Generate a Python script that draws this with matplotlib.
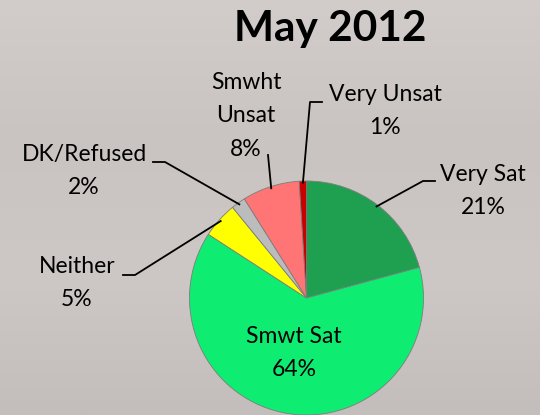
import matplotlib.pyplot as plt
import numpy as np
from matplotlib.colors import LinearSegmentedColormap

plt.rcParams['font.family'] = ['Lato', 'DejaVu Sans']

# survey shares, clockwise from 12 o'clock
labels = ['Very Sat', 'Smwt Sat', 'Neither', 'DK/Refused', 'Smwht\nUnsat', 'Very Unsat']
pcts = [21, 64, 5, 2, 8, 1]
colors = ['#1fa050', '#0eec72', '#ffff00', '#bcbcbc', '#ff7474', '#c80000']

W, H = 540, 415
fig = plt.figure(figsize=(5.4, 4.15), dpi=100)
ax = fig.add_axes([0, 0, 1, 1])

# grey slide background
bg = LinearSegmentedColormap.from_list('bg', ['#d2cdca', '#c9c4c1', '#cdc8c5', '#c3bebb'])
ax.imshow(np.linspace(0, 1, 256).reshape(-1, 1), cmap=bg, aspect='auto',
          extent=[0, W, 0, H], origin='upper', zorder=0)

cx, cy, r = 306.5, H - 298, 117
wedges, _ = ax.pie(pcts, colors=colors, startangle=90, counterclock=False,
                   center=(cx, cy), radius=r,
                   wedgeprops=dict(edgecolor='#7d7d7d', linewidth=0.6))

# label centres and leader elbows, in pixels from the top-left
text_xy = [(483, 191), (294, 353), (77, 283), (84, 171), (246, 116), (385, 111)]
elbows = [[(423, 181), (435, 181)], None, [(135, 275), (123, 275)],
          [(165, 162), (153, 162)], [(268, 155)], [(310, 102), (322, 102)]]

for w, lab, p, (tx, ty), elb in zip(wedges, labels, pcts, text_xy, elbows):
    ax.text(tx, H - ty, f'{lab}\n{p}%', ha='center', va='center',
            fontsize=16.5, linespacing=1.75, zorder=5)
    if elb is None:
        continue
    mid = np.radians((w.theta1 + w.theta2) / 2)
    xs = [cx + r * 0.985 * np.cos(mid)] + [e[0] for e in elb]
    ys = [cy + r * 0.985 * np.sin(mid)] + [H - e[1] for e in elb]
    ax.plot(xs, ys, color='black', lw=1.3, zorder=4)

fig.text(330 / W, 1 - 29 / H, 'May 2012', fontsize=30.5, fontweight='bold',
         ha='center', va='center')

ax.set_xlim(0, W)
ax.set_ylim(0, H)
ax.set_aspect('equal')
ax.axis('off')

fig.savefig('out.png', dpi=100)
